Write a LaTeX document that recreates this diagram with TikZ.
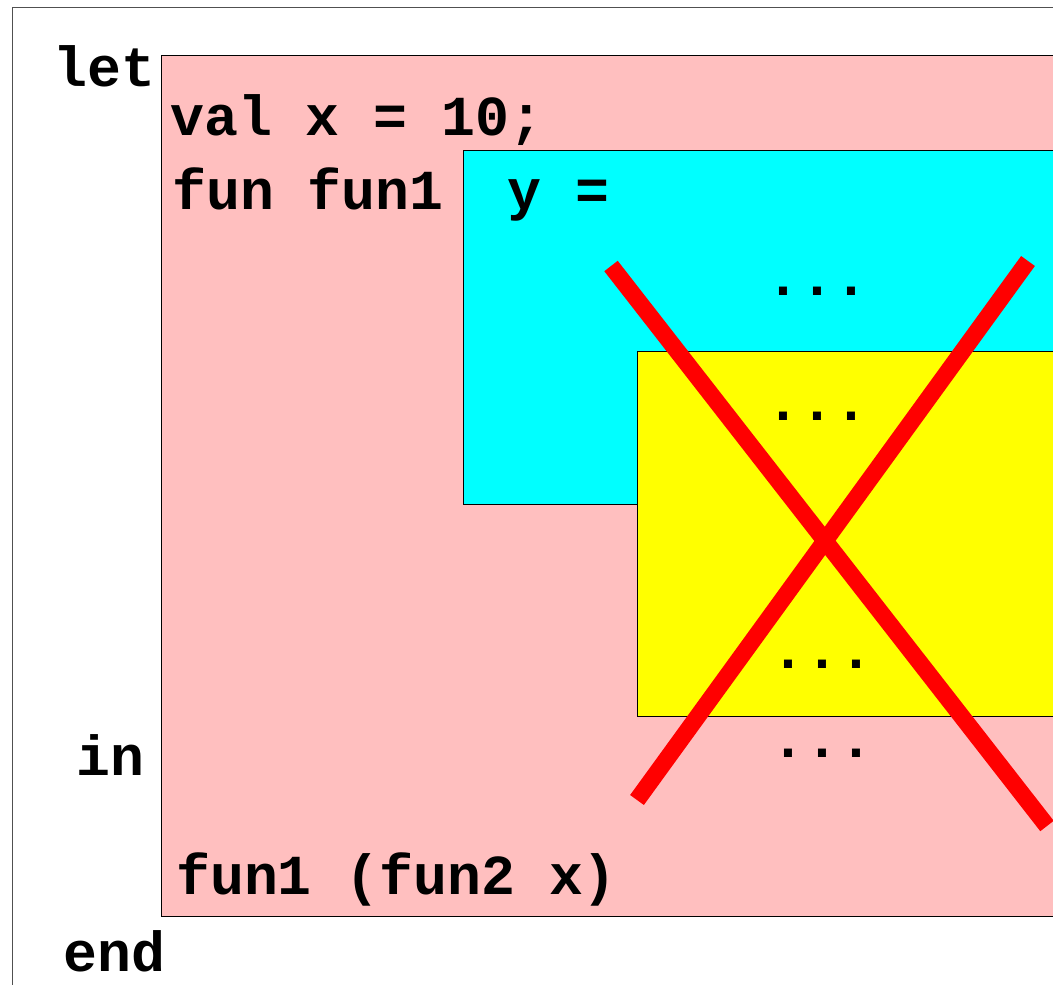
\documentclass[tikz,border=0pt]{standalone}
\usepackage{fontspec}
\setmonofont{Liberation Mono}
\usetikzlibrary{positioning}
\definecolor{letpink}{RGB}{255,191,191}
\definecolor{funcyan}{RGB}{0,255,255}
\definecolor{bodyyellow}{RGB}{255,255,0}
\definecolor{crossred}{RGB}{255,0,0}
\definecolor{framegray}{RGB}{80,80,80}

\begin{document}
\begin{tikzpicture}[
        x=1pt, y=-1pt,
        code/.style={anchor=base west, inner sep=0pt, font=\fontsize{56.5}{60}\selectfont\ttfamily\bfseries},
        scopebox/.style={draw=black, line width=0.8pt},
        cross/.style={draw=crossred, line width=17pt}
    ]
        \useasboundingbox (0,0) rectangle (1053,985);
        \clip (0,0) rectangle (1053,985);

        % Frame and scopes
        \draw[framegray, line width=1pt] (12,7) rectangle (1070,1000);
        \draw[scopebox, fill=letpink] (161,55) rectangle (1070,916);
        \draw[scopebox, fill=funcyan] (463,150) rectangle (1070,504);
        \draw[scopebox, fill=bodyyellow] (637,351) rectangle (1070,716);

        % Code text
        \node[code] (let) at (53,86) {let};
        \node[code] (val) at (170,135) {val x = 10;};
        \node[code] (fun) at (172,209) {fun fun1};
        \node[code] (arg) at (507,209) {y =};
        \node[code] (dots1) at (766,295) {...};
        \node[code] (dots2) at (766,420) {...};
        \node[code] (dots3) at (771,668) {...};
        \node[code] (dots4) at (771,757) {...};
        \node[code] (in) at (76,775) {in};
        \node[code] (call) at (176,894) {fun1 (fun2 x)};
        \node[code] (end) at (63,971) {end};

        % Cross
        \coordinate (c1a) at (611,266);
        \coordinate (c1b) at (1047,826);
        \coordinate (c2a) at (1028,261);
        \coordinate (c2b) at (637,800);
        \draw[cross] (c1a) -- (c1b);
        \draw[cross] (c2a) -- (c2b);
    \end{tikzpicture}
\end{document}
